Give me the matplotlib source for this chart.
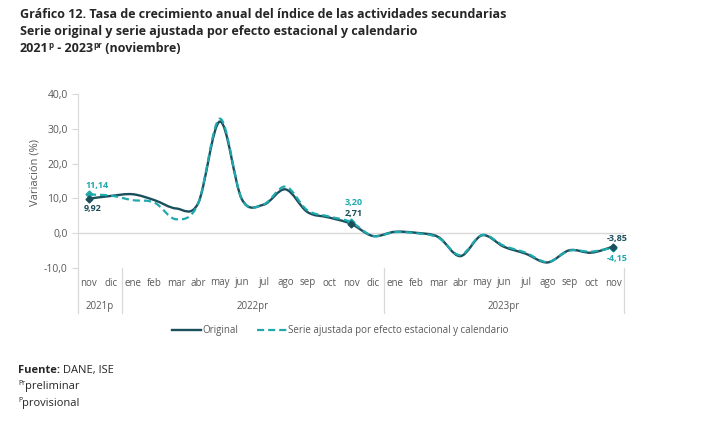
import numpy as np
import matplotlib
matplotlib.use('Agg')
import matplotlib.pyplot as plt
from matplotlib.path import Path
from matplotlib.patches import PathPatch
from matplotlib.lines import Line2D
from matplotlib.transforms import blended_transform_factory

plt.rcParams['font.family'] = ['Open Sans', 'DejaVu Sans']

# Data
months = ['nov', 'dic',
          'ene', 'feb', 'mar', 'abr', 'may', 'jun', 'jul', 'ago', 'sep', 'oct', 'nov', 'dic',
          'ene', 'feb', 'mar', 'abr', 'may', 'jun', 'jul', 'ago', 'sep', 'oct', 'nov']
years = ['2021p', '2022pr', '2023pr']
year_counts = [2, 12, 11]
original = [9.92, 10.7, 11.2, 9.5, 7.1, 8.6, 32.1, 9.8, 8.2, 12.6, 6.1, 4.5, 2.71,
            -0.8, 0.4, 0.1, -1.1, -6.6, -0.6, -3.9, -5.9, -8.4, -4.9, -5.6, -3.85]
ajustada = [11.14, 10.8, 9.5, 8.8, 4.0, 8.5, 32.9, 9.8, 8.3, 13.4, 6.6, 4.8, 3.20,
            -0.8, 0.3, 0.0, -1.3, -6.3, -0.5, -3.6, -5.6, -8.3, -5.0, -5.3, -4.15]
yticks = [-10, 0, 10, 20, 30, 40]

dark = '#1b4f5c'
teal = '#1fa9ad'
gray = '#595959'
light = '#d9d9d9'
black = '#262626'

W, H = 724, 421


def fx(px):
    return px / W


def fy(py):
    return 1 - py / H


def smooth_path(x, y):
    # Excel-like smoothed line: cubic Bezier segments with Catmull-Rom tangents
    n = len(x)
    verts = [(x[0], y[0])]
    codes = [Path.MOVETO]
    for i in range(n - 1):
        a = max(i - 1, 0)
        b = min(i + 2, n - 1)
        c1 = (x[i] + (x[i + 1] - x[a]) / 6, y[i] + (y[i + 1] - y[a]) / 6)
        c2 = (x[i + 1] - (x[b] - x[i]) / 6, y[i + 1] - (y[b] - y[i]) / 6)
        verts += [c1, c2, (x[i + 1], y[i + 1])]
        codes += [Path.CURVE4] * 3
    return Path(verts, codes)


fig = plt.figure(figsize=(W / 100, H / 100), dpi=100)
renderer = fig.canvas.get_renderer()
ax = fig.add_axes([fx(78), fy(268), fx(624) - fx(78), fy(94) - fy(268)])

x = np.arange(len(months))
ax.set_xlim(-0.5, len(months) - 0.5)
ax.set_ylim(-10, 40)

ax.axhline(0, color=light, lw=1.0, zorder=1)
ax.add_patch(PathPatch(smooth_path(x, ajustada), fill=False, edgecolor=teal,
                       lw=1.6, linestyle=(0, (3.2, 1.8)), zorder=3))
ax.add_patch(PathPatch(smooth_path(x, original), fill=False, edgecolor=dark,
                       lw=1.7, zorder=2))

# markers and labels on highlighted points
for i in (0, 12, 24):
    ax.plot(x[i], ajustada[i], marker='D', ms=3.5, color=teal, zorder=4)
    ax.plot(x[i], original[i], marker='D', ms=3.5, color=dark, zorder=4)


def fmt(v):
    return f'{v:.2f}'.replace('.', ',')


lab = dict(fontsize=6.5, fontweight='bold', ha='center', va='center',
           textcoords='offset points')
ax.annotate(fmt(ajustada[0]), (x[0], ajustada[0]), xytext=(5.5, 6.5), color=teal, **lab)
ax.annotate(fmt(original[0]), (x[0], original[0]), xytext=(3, -7), color=dark, **lab)
ax.annotate(fmt(ajustada[12]), (x[12], ajustada[12]), xytext=(2, 14), color=teal, **lab)
ax.annotate(fmt(original[12]), (x[12], original[12]), xytext=(2, 7.5), color=dark, **lab)
ax.annotate(fmt(original[24]), (x[24], original[24]), xytext=(3, 5.5), color=dark, **lab)
ax.annotate(fmt(ajustada[24]), (x[24], ajustada[24]), xytext=(3, -7.5), color=teal, **lab)

# axes styling
for s in ('top', 'right', 'bottom'):
    ax.spines[s].set_visible(False)
ax.spines['left'].set_color(light)
ax.set_yticks(yticks)
ax.set_yticklabels([f'{v:.1f}'.replace('.', ',') for v in yticks])
ax.tick_params(axis='y', colors=light, labelcolor=gray, labelsize=7.5, length=4, width=0.8)
ax.set_xticks([])

# category axis with two levels
tr = blended_transform_factory(ax.transData, fig.transFigure)
for i, m in enumerate(months):
    ax.text(x[i], fy(283), m, transform=tr, ha='center', va='center',
            fontsize=7, color=gray)
start = -0.5
bounds = [start]
for yr, cnt in zip(years, year_counts):
    end = start + cnt
    ax.text((start + end) / 2, fy(307), yr, transform=tr, ha='center', va='center',
            fontsize=7, color=gray)
    bounds.append(end)
    start = end
for b in bounds:
    ax.add_line(Line2D([b, b], [fy(268), fy(313)], transform=tr, color=light,
                       lw=0.9, clip_on=False))

fig.text(fx(35), fy(172), 'Variación (%)', rotation=90, ha='center', va='center',
         fontsize=8, color=gray)

# legend
handles = [Line2D([], [], color=dark, lw=1.7),
           Line2D([], [], color=teal, lw=1.6, linestyle=(0, (3.2, 1.8)))]
fig.legend(handles, ['Original', 'Serie ajustada por efecto estacional y calendario'],
           loc='center', bbox_to_anchor=(fx(340), fy(331)), ncol=2, frameon=False,
           fontsize=7, handlelength=3.0, handletextpad=0.1, columnspacing=2.0,
           labelcolor=gray)


def chain(parts, x0, y0):
    # draw text runs one after another on a shared baseline (pixel coords)
    xp = x0
    for txt, kw, rise in parts:
        t = fig.text(fx(xp), fy(y0 - rise), txt, ha='left', va='baseline', **kw)
        xp += t.get_window_extent(renderer).width


tkw = dict(fontsize=9.0, fontweight='bold', color=black)
skw = dict(fontsize=5.8, fontweight='bold', color=black)
fig.text(fx(20), fy(18), 'Gráfico 12. Tasa de crecimiento anual del índice de las actividades secundarias',
         ha='left', va='baseline', **tkw)
fig.text(fx(20), fy(35), 'Serie original y serie ajustada por efecto estacional y calendario',
         ha='left', va='baseline', **tkw)
chain([('2021', tkw, 0), ('p', skw, 4), (' - 2023', tkw, 0), ('pr', skw, 4),
       (' (noviembre)', tkw, 0)], 20, 52)

# footer
fkw = dict(fontsize=8, color=black)
fbkw = dict(fontsize=8, color=black, fontweight='bold')
ekw = dict(fontsize=5, color=black)
chain([('Fuente:', fbkw, 0), (' DANE, ISE', fkw, 0)], 18, 373)
chain([('Pr', ekw, 4), ('preliminar', fkw, 0)], 18, 389)
chain([('P', ekw, 4), ('provisional', fkw, 0)], 18, 406)

fig.savefig('out.png', dpi=100, facecolor='white')
